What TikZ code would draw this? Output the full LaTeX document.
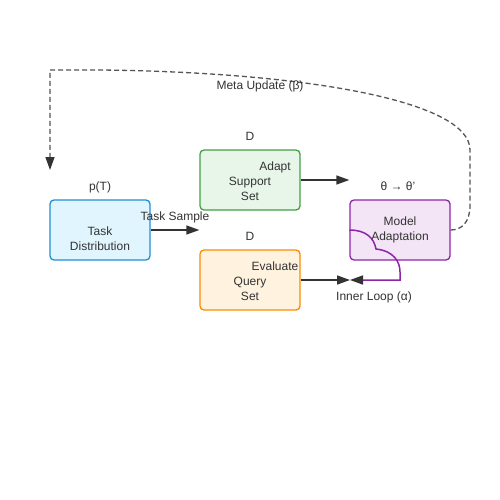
\documentclass[tikz,border=0pt]{standalone}
\usepackage{fontspec}
\setmainfont{Liberation Sans}
\usetikzlibrary{arrows.meta}
\definecolor{txt}{HTML}{333333}
\definecolor{bluef}{HTML}{E1F5FE}\definecolor{blued}{HTML}{1E8FD5}
\definecolor{greenf}{HTML}{E8F5E9}\definecolor{greend}{HTML}{43A047}
\definecolor{orangef}{HTML}{FFF3E0}\definecolor{oranged}{HTML}{FB8C00}
\definecolor{purplef}{HTML}{F3E5F5}\definecolor{purpled}{HTML}{8E24AA}
\definecolor{dashc}{HTML}{555555}
\tikzset{
  box/.style={draw, line width=1.3pt, rounded corners=4pt, minimum width=100pt, minimum height=60pt, inner sep=0pt},
  lbl/.style={text=txt, font=\fontsize{12}{14}\selectfont, inner sep=0pt, anchor=base},
  conn/.style={draw=txt, line width=1.5pt, -{Triangle[length=13pt,width=9pt]}},
}
\begin{document}
\begin{tikzpicture}[x=1pt,y=-1pt]
\useasboundingbox (0,0) rectangle (500,500);
\fill[white] (0,0) rectangle (500,500);
% boxes
\node[box, fill=bluef, draw=blued] (dist) at (100,230) {};
\node[box, fill=greenf, draw=greend] (sup) at (250,180) {};
\node[box, fill=orangef, draw=oranged] (qry) at (250,280) {};
\node[box, fill=purplef, draw=purpled] (mod) at (400,230) {};
% texts
\node[lbl] (t1) at (100,235) {Task};
\node[lbl] (t2) at (100,250) {Distribution};
\node[lbl] (t3) at (275,170) {Adapt};
\node[lbl] (t4) at (250,185) {Support};
\node[lbl] (t5) at (250,200) {Set};
\node[lbl] (t6) at (275,270) {Evaluate};
\node[lbl] (t7) at (250,285) {Query};
\node[lbl] (t8) at (250,300) {Set};
\node[lbl] (t9) at (400,225) {Model};
\node[lbl] (t10) at (400,240) {Adaptation};
\node[lbl] (pT) at (100,190) {p(T)};
\node[lbl] (d1) at (250,140) {D};
\node[lbl] (d2) at (250,240) {D};
\node[lbl] (th) at (398,190) {θ → θ'};
% coordinates
\coordinate (mupL) at (50,170);
\coordinate (loopEnd) at (350,280);
% connectors
\draw[conn] (dist.east) -- (dist.east -| sup.west);
\node[lbl] (ts) at (175,220) {Task Sample};
\draw[conn] (sup.east) -- (sup.east -| mod.west);
\draw[conn] (qry.east) -- (loopEnd);
\draw[draw=purpled, line width=1.5pt, -{Triangle[length=13pt,width=9pt,color=txt]}]
  (mod.west) .. controls (366,230) and (374,238) .. (376,249)
  .. controls (394,251) and (400,262) .. (400,272) -- (400,280) -- (loopEnd);
\node[lbl] (il) at (374,300) {Inner Loop (α)};
\draw[draw=dashc, line width=1.3pt, dash pattern=on 5pt off 3pt, -{Triangle[length=13pt,width=9pt,color=txt]}]
  (mod.east) .. controls (462,230) and (470,222) .. (470,205) -- (470,150)
  .. controls (470,100) and (300,72) .. (100,70) -- (50,70) -- (mupL);
\node[lbl] (mu) at (260,90) {Meta Update (β)};
\end{tikzpicture}
\end{document}
